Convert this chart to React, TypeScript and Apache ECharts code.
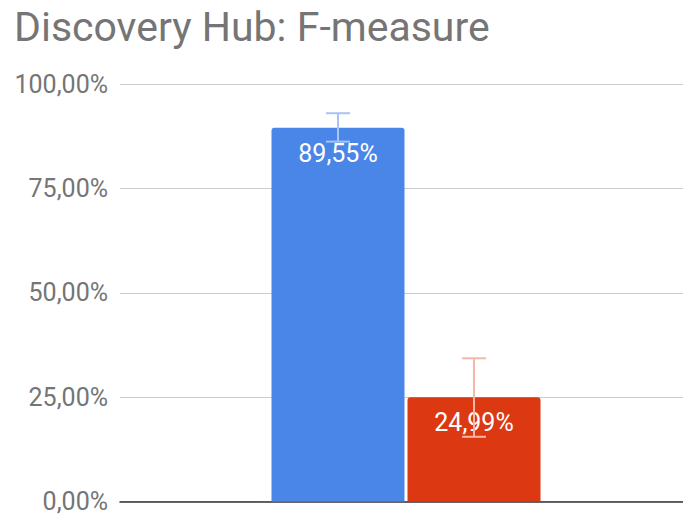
import React, { useEffect, useRef } from "react";
import * as echarts from "echarts";

const title = "Discovery Hub: F-measure";
const categories = ["Discovery Hub"];
const seriesNames = ["A", "B"];
const values = [89.55, 24.99];
const errLow = [86.2, 15.5];
const errHigh = [93.0, 34.3];
const tickLabels = ["0,00%", "25,00%", "50,00%", "75,00%", "100,00%"];

const barColors = ["#4a86e8", "#dc3912"];
const errColors = ["#a9c4f2", "#f5b7a8"];
const BAR_W = 133;
const BAR_GAP = 3;

export default function App() {
  const ref = useRef<HTMLDivElement>(null);
  useEffect(() => {
    document.body.style.margin = "0";
    const chart = echarts.init(ref.current!, null, { renderer: "svg" });
    const fmt = (v: number) => v.toFixed(2).replace(".", ",") + "%";
    const barSeries = values.map((v, i) => ({
      type: "bar",
      name: seriesNames[i],
      data: [v],
      barWidth: BAR_W,
      barGap: ((BAR_GAP / BAR_W) * 100).toFixed(2) + "%",
      itemStyle: { color: barColors[i], borderRadius: [3, 3, 0, 0] },
      label: {
        show: true,
        position: "insideTop",
        distance: 13,
        color: "#ffffff",
        fontSize: 25,
        fontFamily: "Roboto",
        formatter: (p: any) => fmt(p.value),
      },
      z: 2,
    }));
    const errSeries = values.map((_, i) => ({
      type: "custom",
      name: seriesNames[i] + " err",
      data: [[0, errLow[i], errHigh[i]]],
      encode: { x: 0, y: [1, 2] },
      z: 5,
      renderItem: (params: any, api: any) => {
        const lo = api.coord([api.value(0), api.value(1)]);
        const hi = api.coord([api.value(0), api.value(2)]);
        const off = (i === 0 ? -1 : 1) * (BAR_W + BAR_GAP) / 2;
        const x = lo[0] + off;
        const cap = 12;
        const style = { stroke: errColors[i], lineWidth: 2 };
        return {
          type: "group",
          children: [
            { type: "line", shape: { x1: x, y1: lo[1], x2: x, y2: hi[1] }, style },
            { type: "line", shape: { x1: x - cap, y1: hi[1], x2: x + cap, y2: hi[1] }, style },
            { type: "line", shape: { x1: x - cap, y1: lo[1], x2: x + cap, y2: lo[1] }, style },
          ],
        };
      },
    }));
    chart.setOption({
      animation: false,
      backgroundColor: "#ffffff",
      title: {
        text: title,
        left: 9,
        top: 1,
        textStyle: { fontFamily: "Roboto", fontSize: 41, fontWeight: "normal", color: "#757575" },
      },
      grid: { left: 120, right: -9, top: 84, bottom: 13.5, outerBoundsMode: "none", containLabel: false },
      xAxis: {
        type: "category",
        data: categories,
        axisLabel: { show: false },
        axisTick: { show: false },
        axisLine: { show: true, lineStyle: { color: "#333333", width: 1.5 } },
      },
      yAxis: {
        type: "value",
        min: 0,
        max: 100,
        interval: 25,
        axisLine: { show: false },
        axisTick: { show: false },
        splitLine: { lineStyle: { color: "#cccccc", width: 1 } },
        axisLabel: {
          margin: 12,
          fontFamily: "Roboto",
          fontSize: 25,
          color: "#757575",
          formatter: (v: number) => tickLabels[Math.round(v / 25)] ?? "",
        },
      },
      series: [...barSeries, ...errSeries],
    });
    return () => chart.dispose();
  }, []);
  return <div ref={ref} style={{ width: 683, height: 515 }} />;
}
